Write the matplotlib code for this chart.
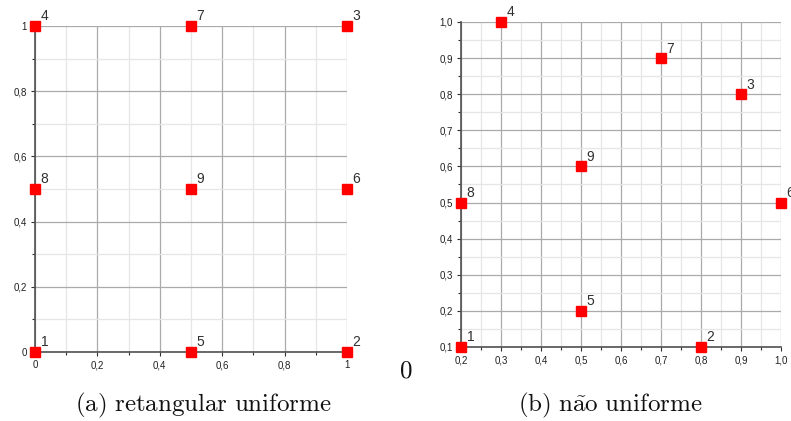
import matplotlib.pyplot as plt
from matplotlib.ticker import FuncFormatter, MultipleLocator

# (a) regular grid nodes
uniform_x = [0.0, 1.0, 1.0, 0.0, 0.5, 1.0, 0.5, 0.0, 0.5]
uniform_y = [0.0, 0.0, 1.0, 1.0, 0.0, 0.5, 1.0, 0.5, 0.5]

# (b) non-uniform nodes
nonuniform_x = [0.2, 0.8, 0.9, 0.3, 0.5, 1.0, 0.7, 0.2, 0.5]
nonuniform_y = [0.1, 0.1, 0.8, 1.0, 0.2, 0.5, 0.9, 0.5, 0.6]

node_labels = ["1", "2", "3", "4", "5", "6", "7", "8", "9"]
captions = [r"$\mathrm{(a)\ retangular\ uniforme}$",
            r"$\mathrm{(b)\ n\tilde{a}o\ uniforme}$"]

TICK_FONT = ["Liberation Sans", "DejaVu Sans"]
plt.rcParams["mathtext.fontset"] = "cm"


def fmt_plain(value, _pos):
    if abs(value - round(value)) < 1e-9:
        return f"{int(round(value))}"
    return f"{value:.1f}".replace(".", ",")


def fmt_one_decimal(value, _pos):
    return f"{value:.1f}".replace(".", ",")


def style_axes(ax, major, minor, formatter):
    ax.set_facecolor("white")
    for side in ("top", "right"):
        ax.spines[side].set_visible(False)
    for side in ("left", "bottom"):
        ax.spines[side].set_color("#505050")
        ax.spines[side].set_linewidth(1.2)
    ax.xaxis.set_major_locator(MultipleLocator(major))
    ax.yaxis.set_major_locator(MultipleLocator(major))
    ax.xaxis.set_minor_locator(MultipleLocator(minor))
    ax.yaxis.set_minor_locator(MultipleLocator(minor))
    ax.xaxis.set_major_formatter(FuncFormatter(formatter))
    ax.yaxis.set_major_formatter(FuncFormatter(formatter))
    ax.grid(which="major", color="#aaaaaa", linewidth=0.9)
    ax.grid(which="minor", color="#e6e6e6", linewidth=0.9)
    ax.set_axisbelow(True)
    ax.tick_params(which="major", length=3, width=0.8, color="#303030",
                   labelsize=7, labelcolor="#202020", pad=3)
    ax.tick_params(which="minor", length=2, width=0.8, color="#303030")
    for lab in ax.get_xticklabels() + ax.get_yticklabels():
        lab.set_family(TICK_FONT)


def draw_nodes(ax, xs, ys):
    ax.plot(xs, ys, linestyle="none", marker="s", markersize=6.8,
            color="#ff0000", clip_on=False, zorder=5)
    for x, y, lab in zip(xs, ys, node_labels):
        ax.annotate(lab, (x, y), xytext=(4, 4), textcoords="offset points",
                    fontsize=10, color="#303030", family=TICK_FONT,
                    annotation_clip=False, zorder=6)


fig = plt.figure(figsize=(7.91, 4.21), dpi=100)

ax_a = fig.add_axes([0.0442, 0.1639, 0.3944, 0.7743])
draw_nodes(ax_a, uniform_x, uniform_y)
ax_a.set_xlim(0, 1)
ax_a.set_ylim(0, 1)
style_axes(ax_a, 0.2, 0.1, fmt_plain)

ax_b = fig.add_axes([0.5828, 0.1758, 0.4046, 0.772])
draw_nodes(ax_b, nonuniform_x, nonuniform_y)
ax_b.set_xlim(0.2, 1.0)
ax_b.set_ylim(0.1, 1.0)
style_axes(ax_b, 0.1, 0.05, fmt_one_decimal)

fig.text(203 / 791, 1 - 405 / 421, captions[0], ha="center", va="center",
         fontsize=18, color="#111111")
fig.text(610 / 791, 1 - 405 / 421, captions[1], ha="center", va="center",
         fontsize=18, color="#111111")
fig.text(406 / 791, 1 - 370 / 421, r"$\mathrm{0}$", ha="center", va="center",
         fontsize=18, color="#111111")

fig.savefig("out.png", dpi=100)
